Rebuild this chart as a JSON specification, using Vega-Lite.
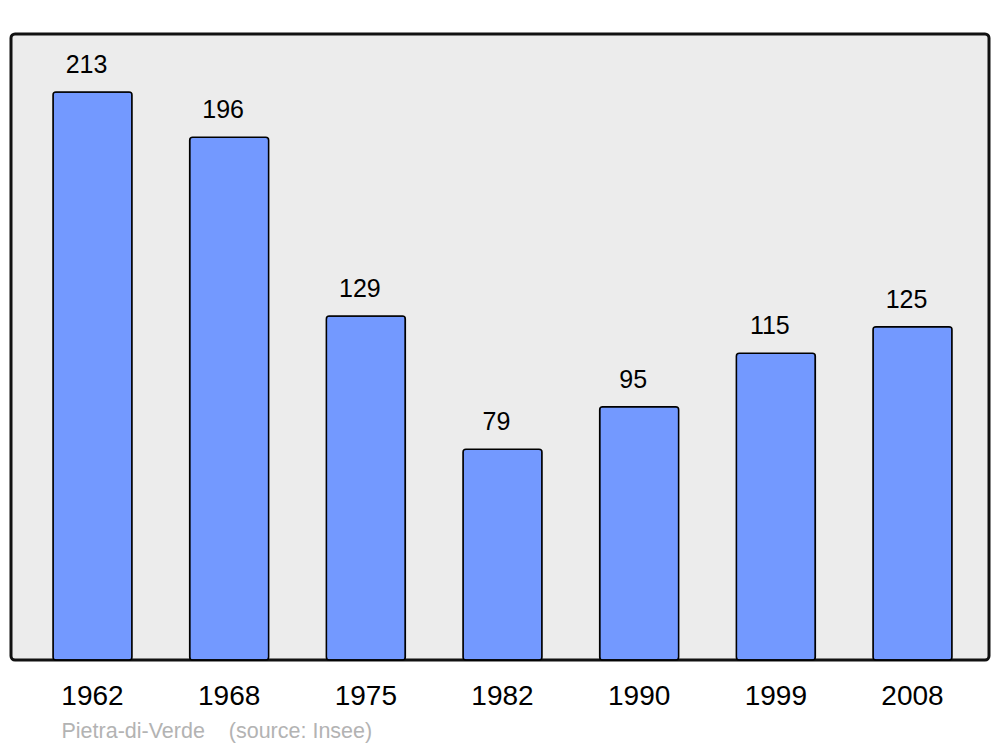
{
  "$schema": "https://vega.github.io/schema/vega-lite/v6.json",
  "width": 978,
  "height": 626,
  "padding": {"left": 11, "top": 34, "right": 11, "bottom": 87},
  "autosize": {"type": "none"},
  "background": "white",
  "config": {
    "font": "Liberation Sans",
    "view": {"fill": "#ececec", "stroke": "#111111", "strokeWidth": 3, "cornerRadius": 4}
  },
  "data": {
    "values": [
      {"year": "1962", "population": 213},
      {"year": "1968", "population": 196},
      {"year": "1975", "population": 129},
      {"year": "1982", "population": 79},
      {"year": "1990", "population": 95},
      {"year": "1999", "population": 115},
      {"year": "2008", "population": 125}
    ]
  },
  "encoding": {
    "x": {
      "field": "year",
      "type": "ordinal",
      "sort": null,
      "scale": {"range": [42, 941], "paddingInner": 0.422, "paddingOuter": 0},
      "axis": {
        "domain": false,
        "ticks": false,
        "labelAngle": 0,
        "labelFontSize": 28,
        "labelColor": "black",
        "labelPadding": 22,
        "labelBaseline": "top",
        "title": "Pietra-di-Verde\u00a0\u00a0\u00a0\u00a0(source: Insee)",
        "titleFontSize": 21.5,
        "titleFontWeight": "normal",
        "titleColor": "#b3b3b3",
        "titleAnchor": "start",
        "titleAlign": "left",
        "titleBaseline": "alphabetic",
        "titleX": 50,
        "titleY": 77
      }
    },
    "y": {
      "field": "population",
      "type": "quantitative",
      "scale": {"domain": [0, 234.75], "nice": false},
      "axis": null
    }
  },
  "layer": [
    {
      "mark": {"type": "bar", "fill": "#7399ff", "stroke": "black", "strokeWidth": 1.5, "cornerRadius": 3}
    },
    {
      "mark": {"type": "text", "fontSize": 25, "color": "black", "baseline": "alphabetic", "dy": -19, "dx": -6},
      "encoding": {"text": {"field": "population", "type": "quantitative"}}
    }
  ]
}
